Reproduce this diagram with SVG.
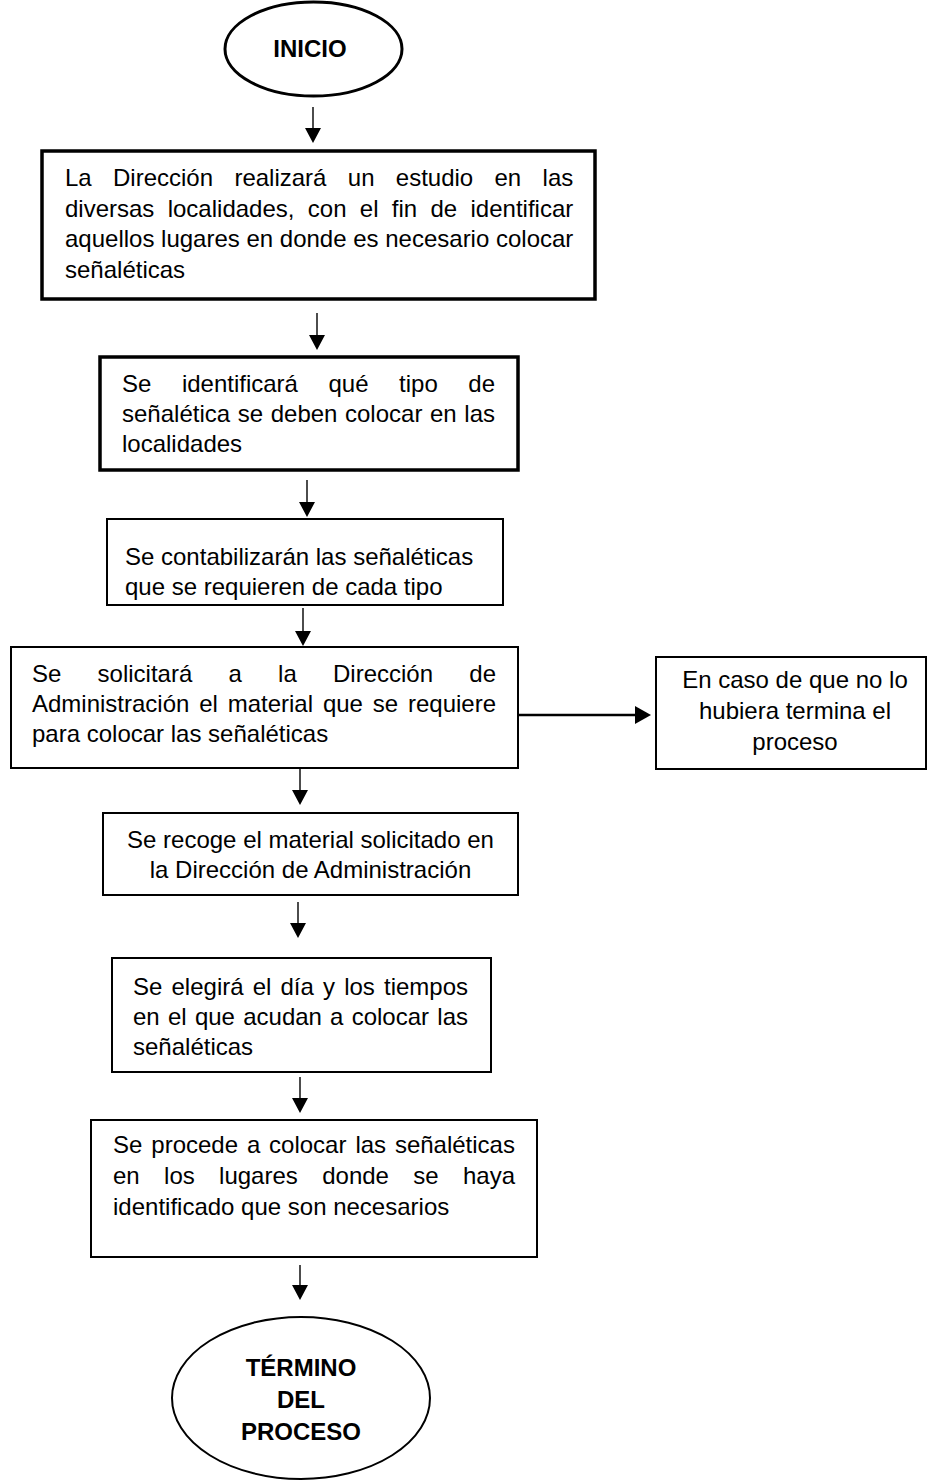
<svg xmlns="http://www.w3.org/2000/svg" width="927" height="1482" viewBox="0 0 927 1482">
<style>
.bg{fill:#ffffff}
.box{fill:#ffffff;stroke:#000;stroke-width:2}
.thick{stroke-width:3.5}
.t{font-family:"Liberation Sans",Arial,sans-serif;font-size:24px;fill:#000}
.b{font-weight:bold;text-anchor:middle}
.c{text-anchor:middle}
.e{text-anchor:end}
.conn line{stroke:#000;stroke-width:1.4}
.conn polygon{fill:#000}
</style>
<rect class="bg" x="0" y="0" width="927" height="1482"/>

<g id="inicio">
<ellipse class="box" cx="313.5" cy="49" rx="88.5" ry="47" style="stroke-width:3"/>
<text class="t b" x="310" y="57">INICIO</text>
</g>

<g id="paso1">
<rect class="box thick" x="42" y="151" width="553" height="148"/>
<text class="t" y="186"><tspan x="65">La</tspan><tspan x="113">Dirección</tspan><tspan x="234.4">realizará</tspan><tspan x="347.8">un</tspan><tspan x="395.8">estudio</tspan><tspan x="494.5">en</tspan><tspan x="542.6">las</tspan></text>
<text class="t" y="216.5"><tspan x="65">diversas</tspan><tspan x="167.7">localidades,</tspan><tspan x="307.8">con</tspan><tspan x="359.8">el</tspan><tspan x="391.8">fin</tspan><tspan x="430.5">de</tspan><tspan x="470.5">identificar</tspan></text>
<text class="t" x="65" y="247">aquellos lugares en donde es necesario colocar</text>
<text class="t" x="65" y="277.5">señaléticas</text>
</g>

<g id="paso2">
<rect class="box thick" x="100" y="357" width="418" height="113"/>
<text class="t" y="392"><tspan x="122">Se</tspan><tspan x="181.9">identificará</tspan><tspan x="328.5">qué</tspan><tspan x="399.1">tipo</tspan><tspan x="468.3">de</tspan></text>
<text class="t" y="422"><tspan x="122">señalética</tspan><tspan x="237.7">se</tspan><tspan x="270.7">deben</tspan><tspan x="345">colocar</tspan><tspan x="430">en</tspan><tspan x="464.3">las</tspan></text>
<text class="t" x="122" y="452">localidades</text>
</g>

<g id="paso3">
<rect class="box" x="107" y="519" width="396" height="86"/>
<text class="t" x="125" y="565">Se contabilizarán las señaléticas</text>
<text class="t" x="125" y="595">que se requieren de cada tipo</text>
</g>

<g id="paso4">
<rect class="box" x="11" y="647" width="507" height="121"/>
<text class="t" y="682"><tspan x="32">Se</tspan><tspan x="97.6">solicitará</tspan><tspan x="228.5">a</tspan><tspan x="278.1">la</tspan><tspan x="333">Dirección</tspan><tspan x="469.3">de</tspan></text>
<text class="t" y="712"><tspan x="32">Administración</tspan><tspan x="199.2">el</tspan><tspan x="227.7">material</tspan><tspan x="322.9">que</tspan><tspan x="372.8">se</tspan><tspan x="408">requiere</tspan></text>
<text class="t" x="32" y="742">para colocar las señaléticas</text>
</g>

<g id="alterno">
<rect class="box" x="656" y="657" width="270" height="112"/>
<text class="t c" x="795" y="688">En caso de que no lo</text>
<text class="t c" x="795" y="719">hubiera termina el</text>
<text class="t c" x="795" y="750">proceso</text>
</g>

<g id="paso5">
<rect class="box" x="103" y="813" width="415" height="82"/>
<text class="t c" x="310.5" y="848">Se recoge el material solicitado en</text>
<text class="t c" x="310.5" y="878">la Dirección de Administración</text>
</g>

<g id="paso6">
<rect class="box" x="112" y="958" width="379" height="114"/>
<text class="t" y="995"><tspan x="133">Se</tspan><tspan x="171.5">elegirá</tspan><tspan x="252.7">el</tspan><tspan x="280.5">día</tspan><tspan x="323">y</tspan><tspan x="344.2">los</tspan><tspan x="384">tiempos</tspan></text>
<text class="t" y="1025"><tspan x="133">en</tspan><tspan x="168">el</tspan><tspan x="194.9">que</tspan><tspan x="243.2">acudan</tspan><tspan x="330.1">a</tspan><tspan x="351.7">colocar</tspan><tspan x="437.3">las</tspan></text>
<text class="t" x="133" y="1055">señaléticas</text>
</g>

<g id="paso7">
<rect class="box" x="91" y="1120" width="446" height="137"/>
<text class="t" y="1153"><tspan x="113">Se</tspan><tspan x="151.3">procede</tspan><tspan x="246.9">a</tspan><tspan x="269.1">colocar</tspan><tspan x="355.4">las</tspan><tspan x="394.9">señaléticas</tspan></text>
<text class="t" y="1184"><tspan x="113">en</tspan><tspan x="164.1">los</tspan><tspan x="219.1">lugares</tspan><tspan x="322.2">donde</tspan><tspan x="413.3">se</tspan><tspan x="463">haya</tspan></text>
<text class="t" x="113" y="1215">identificado que son necesarios</text>
</g>

<g id="termino">
<ellipse class="box" cx="301" cy="1398" rx="129" ry="81"/>
<text class="t b" x="301" y="1376">TÉRMINO</text>
<text class="t b" x="301" y="1408">DEL</text>
<text class="t b" x="301" y="1440">PROCESO</text>
</g>

<g id="connectors" class="conn">
<line x1="313" y1="107" x2="313" y2="129"/><polygon points="305,128 321,128 313,143"/>
<line x1="317" y1="313" x2="317" y2="336"/><polygon points="309,335 325,335 317,350"/>
<line x1="307" y1="480" x2="307" y2="503"/><polygon points="299,502 315,502 307,517"/>
<line x1="303" y1="608" x2="303" y2="632"/><polygon points="295,631 311,631 303,646"/>
<line x1="300" y1="769" x2="300" y2="791"/><polygon points="292,790 308,790 300,805"/>
<line x1="298" y1="902" x2="298" y2="924"/><polygon points="290,923 306,923 298,938"/>
<line x1="300" y1="1077" x2="300" y2="1099"/><polygon points="292,1098 308,1098 300,1113"/>
<line x1="300" y1="1265" x2="300" y2="1286"/><polygon points="292,1285 308,1285 300,1300"/>
<line x1="518" y1="715" x2="637" y2="715" style="stroke-width:2.5"/><polygon points="635,706 635,724 651,715"/>
</g>
</svg>
